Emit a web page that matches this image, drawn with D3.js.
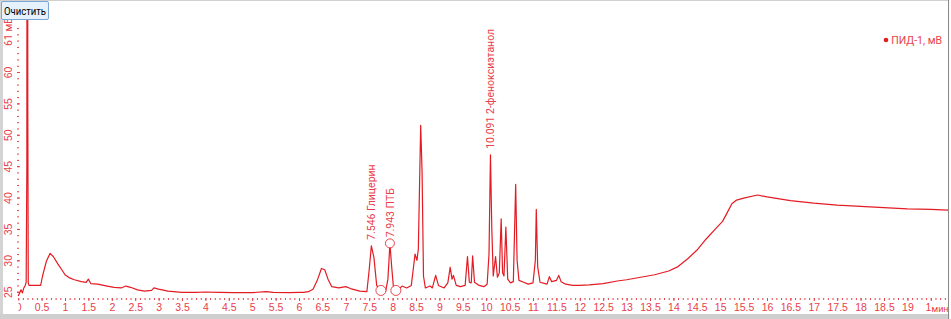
<!DOCTYPE html>
<html>
<head>
<meta charset="utf-8">
<script src="https://cdn.jsdelivr.net/npm/d3@7"></script>
<style>
  body { margin: 0; background: #fff; }
  svg { display: block; font-family: Roboto, "Noto Sans", sans-serif; }
  .tick text { fill: #e8404a; font-size: 10.5px; }
  .tick line { stroke: #e8404a; }
</style>
</head>
<body>
<svg id="chart" width="951" height="319"></svg>
<script>
// время удерживания, мин
const times = [0.00,0.03,0.06,0.09,0.12,0.15,0.17,0.185,0.19,0.20,0.205,0.215,0.23,0.35,0.48,0.52,0.60,0.68,0.75,0.85,0.95,1.00,1.10,1.20,1.35,1.45,1.50,1.55,1.70,1.90,2.05,2.20,2.30,2.40,2.55,2.70,2.85,2.90,3.00,3.20,3.50,3.80,4.00,4.30,4.60,5.00,5.30,5.45,5.80,6.00,6.10,6.20,6.30,6.40,6.48,6.55,6.62,6.70,6.85,7.00,7.10,7.30,7.45,7.50,7.546,7.60,7.66,7.75,7.85,7.90,7.943,7.98,8.02,8.05,8.15,8.20,8.30,8.40,8.48,8.52,8.55,8.60,8.63,8.66,8.70,8.80,8.85,8.92,8.98,9.10,9.18,9.23,9.27,9.30,9.36,9.45,9.55,9.60,9.64,9.68,9.71,9.75,9.85,9.95,10.02,10.06,10.091,10.12,10.15,10.20,10.24,10.28,10.32,10.35,10.38,10.42,10.46,10.52,10.58,10.63,10.66,10.70,10.80,10.90,11.00,11.05,11.07,11.10,11.15,11.30,11.35,11.40,11.50,11.55,11.60,11.70,11.85,12.00,12.20,12.50,12.80,13.00,13.30,13.60,13.90,14.10,14.30,14.50,14.70,14.90,15.05,15.15,15.25,15.35,15.50,15.80,16.00,16.50,17.00,17.50,18.00,18.50,19.00,19.50,19.90];
// сигнал ПИД-1, мВ
const signal = [24.3,24.8,25.3,24.8,25.6,26.0,26.5,45,120,120,55,26.4,26.0,26.0,26.0,27.5,29.8,31.1,30.6,29.4,28.3,27.7,27.2,26.9,26.6,26.5,27.0,26.3,26.2,25.9,25.7,25.6,25.9,25.7,25.3,25.1,25.2,25.6,25.4,25.1,24.9,24.9,24.95,24.9,24.85,24.85,25.0,24.9,24.85,24.9,24.9,25.0,25.4,27.0,28.7,28.5,27.0,25.8,25.6,25.8,25.5,25.1,25.0,28.5,32.3,30.5,26.0,25.0,25.0,27.0,32.7,29.0,25.5,25.3,25.5,25.9,25.6,26.0,31.0,30.0,31.8,51.5,44,27.5,25.6,25.9,25.6,27.6,26.0,25.6,26.4,28.9,27.0,27.6,26.0,25.8,26.0,30.6,26.5,26.4,30.7,26.5,26.0,25.8,26.2,31,46.8,35,27.5,30.6,27.3,28,36.6,28,27.5,35.3,27,26.4,26.6,42.1,30,26.8,26.5,26.2,26.4,30,38.1,29,26.5,26.2,27.4,26.6,26.8,27.6,26.6,26.2,26.0,26.0,26.1,26.3,26.7,26.9,27.3,27.7,28.3,29.0,30.2,31.6,33.4,35.0,36.2,37.6,39.0,39.6,39.9,40.4,40.1,39.5,39.1,38.8,38.6,38.4,38.2,38.1,38.0];

const peakTimes = [7.546, 7.943, 10.091];
const peakValues = [32.3, 32.7, 46.8];
const peakNames = ["7.546 Глицерин", "7.943 ПТБ", "10.091 2-феноксиэтанол"];

// границы пиков (маркеры)
const markTimes = [7.75, 8.07];
const markValues = [25.2, 25.2];

const xTicks = d3.range(0, 19.51, 0.5);
// последняя подпись видна только частично — подпись единиц её перекрывает
const xTickLabels = xTicks.map(d => d == 19.5 ? "1" : String(+d.toFixed(1)));
const yTicks = [25, 30, 35, 40, 45, 50, 55, 60];
const yUnitLabel = "61 мВ";
const xUnitLabel = "мин";
const seriesName = "ПИД-1, мВ";

const red = "#e31b23";
const labelRed = "#e8404a";
const svg = d3.select("#chart");

const plot = { left: 17, right: 948, top: 20, bottom: 298 };

const x = d3.scaleLinear().domain([0, 19]).range([18.2, 907.4]);
const y = d3.scaleLinear().domain([25, 60]).range([291.7, 72]);

svg.append("rect").attr("x", 0).attr("y", 0).attr("width", 951).attr("height", 319).attr("fill", "#fff");

svg.append("clipPath").attr("id", "clip")
  .append("rect")
  .attr("x", plot.left).attr("y", plot.top)
  .attr("width", plot.right - plot.left).attr("height", plot.bottom - plot.top);
// подпись «0» срезана слева
svg.append("clipPath").attr("id", "xclip")
  .append("rect")
  .attr("x", 18.5).attr("y", 0)
  .attr("width", 930).attr("height", 20);

// оси
let xAxis = svg.append("g")
  .attr("clip-path", "url(#xclip)")
  .attr("transform", `translate(0,${plot.bottom})`)
  .call(d3.axisBottom(x).tickValues(xTicks).tickSize(3).tickPadding(3)
    .tickFormat((d, i) => xTickLabels[i]))
  .call(g => g.select(".domain").remove());
xAxis.selectAll(".tick text").filter(d => d == 19.5).attr("dx", -3);
svg.append("g")
  .attr("transform", `translate(0,${plot.bottom})`)
  .call(d3.axisBottom(x).tickValues(d3.range(0, 19.85, 0.1)).tickSize(2).tickFormat(""))
  .call(g => g.select(".domain").remove());

let yAxis = svg.append("g")
  .attr("transform", `translate(${plot.left},0)`)
  .call(d3.axisRight(y).tickValues(yTicks).tickSize(3).tickFormat(d3.format("d")));
yAxis.select(".domain").remove();
yAxis.selectAll(".tick text")
  .attr("x", 0).attr("dy", 0)
  .attr("text-anchor", "middle")
  .attr("transform", "translate(-9,0) rotate(-90)")
  .attr("dominant-baseline", "central");
svg.append("g")
  .attr("transform", `translate(${plot.left},0)`)
  .call(d3.axisRight(y).tickValues(d3.range(25, 68, 1)).tickSize(2).tickFormat(""))
  .call(g => g.select(".domain").remove());

// подписи единиц
svg.append("text")
  .attr("transform", "translate(8,46) rotate(-90)")
  .attr("dominant-baseline", "central")
  .attr("fill", labelRed).style("font-size", "10.5px")
  .text(yUnitLabel);
svg.append("text")
  .attr("x", 931.5).attr("y", 312)
  .attr("fill", labelRed).style("font-size", "9px")
  .text(xUnitLabel);

// хроматограмма
const data = times.map((t, i) => [t, signal[i]]);
svg.append("path")
  .datum(data)
  .attr("clip-path", "url(#clip)")
  .attr("fill", "none")
  .attr("stroke", red)
  .attr("stroke-width", 1.2)
  .attr("stroke-linejoin", "round")
  .attr("d", d3.line().x(d => x(d[0])).y(d => y(d[1])));

// маркеры границ пиков
svg.selectAll(".mark")
  .data(markTimes)
  .enter()
  .append("circle")
  .attr("cx", d => x(d))
  .attr("cy", (d, i) => y(markValues[i]))
  .attr("r", 5)
  .attr("fill", "#fff")
  .attr("stroke", red)
  .attr("stroke-width", 0.8);

svg.append("circle")
  .attr("cx", x(peakTimes[1]))
  .attr("cy", y(peakValues[1]))
  .attr("r", 4.5)
  .attr("fill", "#fff")
  .attr("stroke", red)
  .attr("stroke-width", 0.8);

// подписи пиков
svg.selectAll(".peak")
  .data(peakTimes)
  .enter()
  .append("text")
  .attr("class", "peak")
  .attr("transform", (d, i) => `translate(${x(d) + 4},${y(peakValues[i]) - 6}) rotate(-90)`)
  .attr("fill", labelRed)
  .style("font-size", "10.5px")
  .text((d, i) => peakNames[i]);

// легенда
svg.append("circle").attr("cx", 886).attr("cy", 40).attr("r", 2.3).attr("fill", red);
svg.append("text").attr("x", 942).attr("y", 44)
  .attr("text-anchor", "end")
  .attr("fill", labelRed).style("font-size", "10.5px")
  .text(seriesName);

// рамка окна поверх графика
svg.append("rect").attr("x", 0).attr("y", 0).attr("width", 3).attr("height", 319).attr("fill", "#d4d4d4");
svg.append("rect").attr("x", 0).attr("y", 314).attr("width", 951).attr("height", 5).attr("fill", "#cfcfcf");
svg.append("rect").attr("x", 0).attr("y", 0).attr("width", 951).attr("height", 1).attr("fill", "#d0d0d0");
svg.append("rect").attr("x", 948).attr("y", 0).attr("width", 1.2).attr("height", 319).attr("fill", "#8a8a8a");
svg.append("rect").attr("x", 949.2).attr("y", 0).attr("width", 2).attr("height", 319).attr("fill", "#fff");

// кнопка
svg.append("rect")
  .attr("x", 1.5).attr("y", 1.5).attr("width", 47).attr("height", 18).attr("rx", 1.5)
  .attr("fill", "#e5f1fb").attr("stroke", "#7aa7d6");
svg.append("text")
  .attr("x", 25).attr("y", 14.5)
  .attr("text-anchor", "middle")
  .attr("textLength", 42).attr("lengthAdjust", "spacingAndGlyphs")
  .attr("fill", "#000").style("font-size", "11.5px")
  .text("Очистить");
</script>
</body>
</html>
